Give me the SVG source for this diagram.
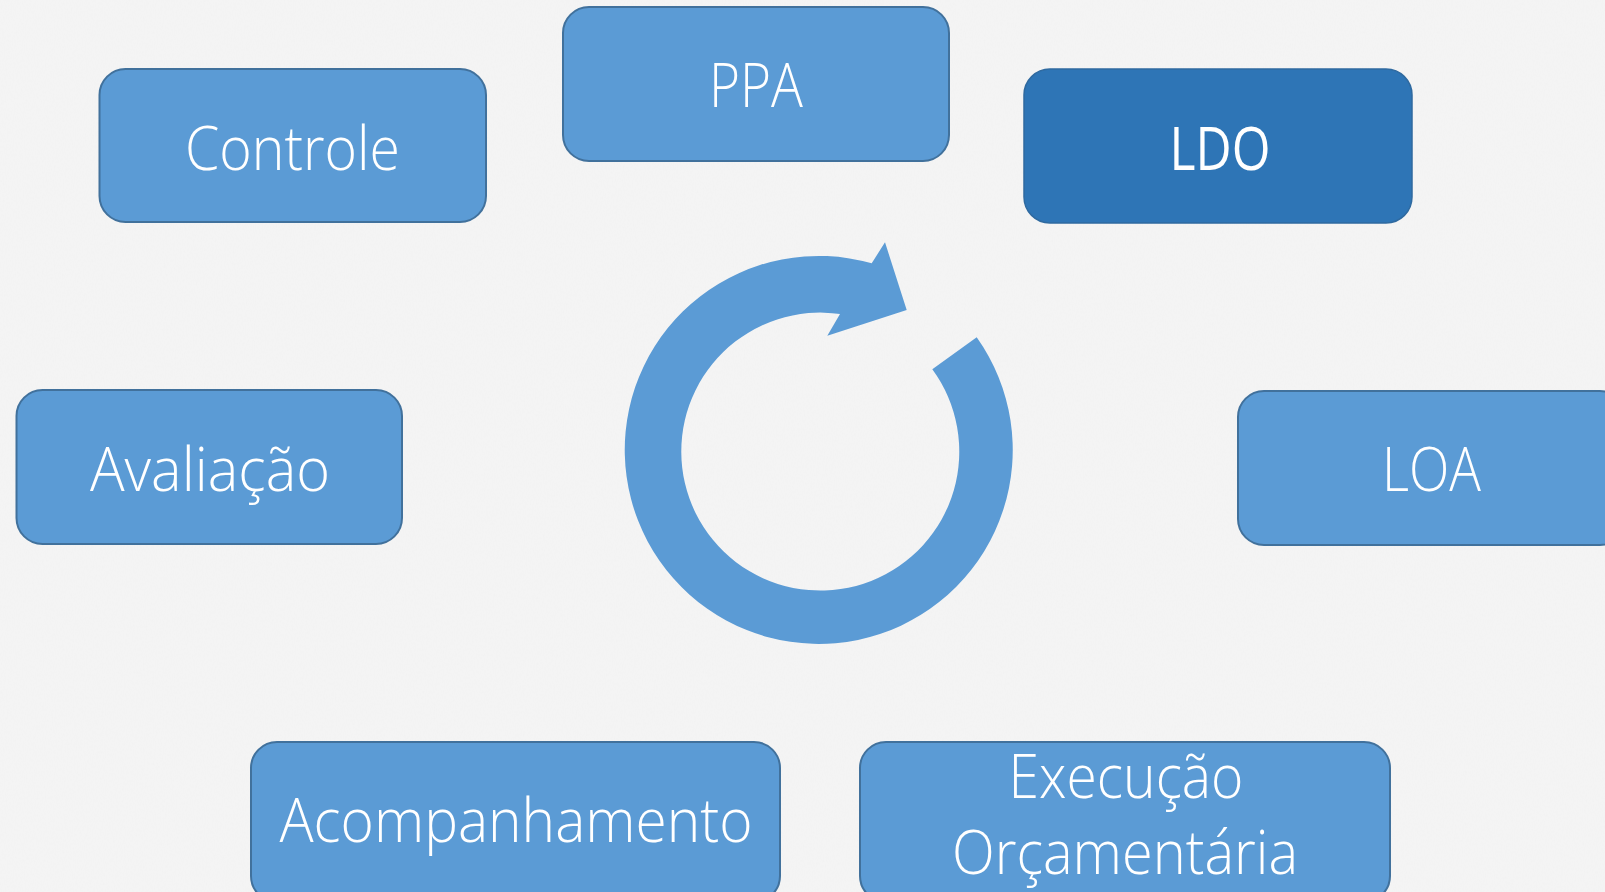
<svg xmlns="http://www.w3.org/2000/svg" width="1605" height="892" viewBox="0 0 1605 892">
  <style>
    .box { fill: #5B9BD5; stroke: #41719C; stroke-width: 2; }
    .dark { fill: #2E75B6; stroke: #2F6AA0; stroke-width: 1.5; }
    .lbl { font-family: "Open Sans", "Liberation Sans", sans-serif; font-weight: 300; font-size: 60px; fill: #FFFFFF; text-anchor: middle; }
    .bold { font-weight: 400; }
    .cycle { fill: #5B9BD5; }
  </style>
  <defs>
    <filter id="paper" x="0" y="0" width="100%" height="100%">
      <feTurbulence type="fractalNoise" baseFrequency="0.9 0.35" numOctaves="3" seed="4" result="n"/>
      <feColorMatrix in="n" type="matrix" values="0 0 0 0 0.88  0 0 0 0 0.88  0 0 0 0 0.88  0 0 0 -1.2 0.75" result="c"/>
      <feComposite in="c" in2="SourceGraphic" operator="over"/>
    </filter>
  </defs>
  <rect x="0" y="0" width="1605" height="892" fill="#F4F4F4"/>
  <rect x="0" y="0" width="1605" height="892" fill="#F4F4F4" filter="url(#paper)" opacity="0.7"/>

  <g id="cycle-arrow">
    <path class="cycle" d="M976.7,337.3 A194,194 0 1 1 871.7,263.3 L885,242.3 L906.7,310 L827.3,335.7 L840,314 A139,139 0 1 0 932.3,369.3 Z"/>
  </g>

  <g id="connectors"></g>

  <g id="node-controle">
    <rect class="box" x="99.5" y="69" width="386.5" height="153" rx="26" ry="26"/>
    <text class="lbl" x="292.5" y="170" textLength="215" lengthAdjust="spacingAndGlyphs">Controle</text>
  </g>
  <g id="node-ppa">
    <rect class="box" x="563" y="7" width="386" height="154" rx="26" ry="26"/>
    <text class="lbl" x="756" y="107" textLength="94" lengthAdjust="spacingAndGlyphs">PPA</text>
  </g>
  <g id="node-ldo">
    <rect class="dark" x="1024" y="69" width="388" height="154" rx="26" ry="26"/>
    <text class="lbl bold" x="1220" y="170" textLength="101" lengthAdjust="spacingAndGlyphs">LDO</text>
  </g>
  <g id="node-avaliacao">
    <rect class="box" x="16.5" y="390" width="385.5" height="154" rx="26" ry="26"/>
    <text class="lbl" x="210" y="491" textLength="240" lengthAdjust="spacingAndGlyphs">Avaliação</text>
  </g>
  <g id="node-loa">
    <rect class="box" x="1238" y="391" width="388" height="154" rx="26" ry="26"/>
    <text class="lbl" x="1431.5" y="491" textLength="99" lengthAdjust="spacingAndGlyphs">LOA</text>
  </g>
  <g id="node-acompanhamento">
    <rect class="box" x="251" y="742" width="529" height="160" rx="26" ry="26"/>
    <text class="lbl" x="516" y="842" textLength="473" lengthAdjust="spacingAndGlyphs">Acompanhamento</text>
  </g>
  <g id="node-execucao">
    <rect class="box" x="860" y="742" width="530" height="160" rx="26" ry="26"/>
    <text class="lbl" x="1126" y="798" textLength="235" lengthAdjust="spacingAndGlyphs">Execução</text>
    <text class="lbl" x="1125" y="874" textLength="346" lengthAdjust="spacingAndGlyphs">Orçamentária</text>
  </g>
</svg>
